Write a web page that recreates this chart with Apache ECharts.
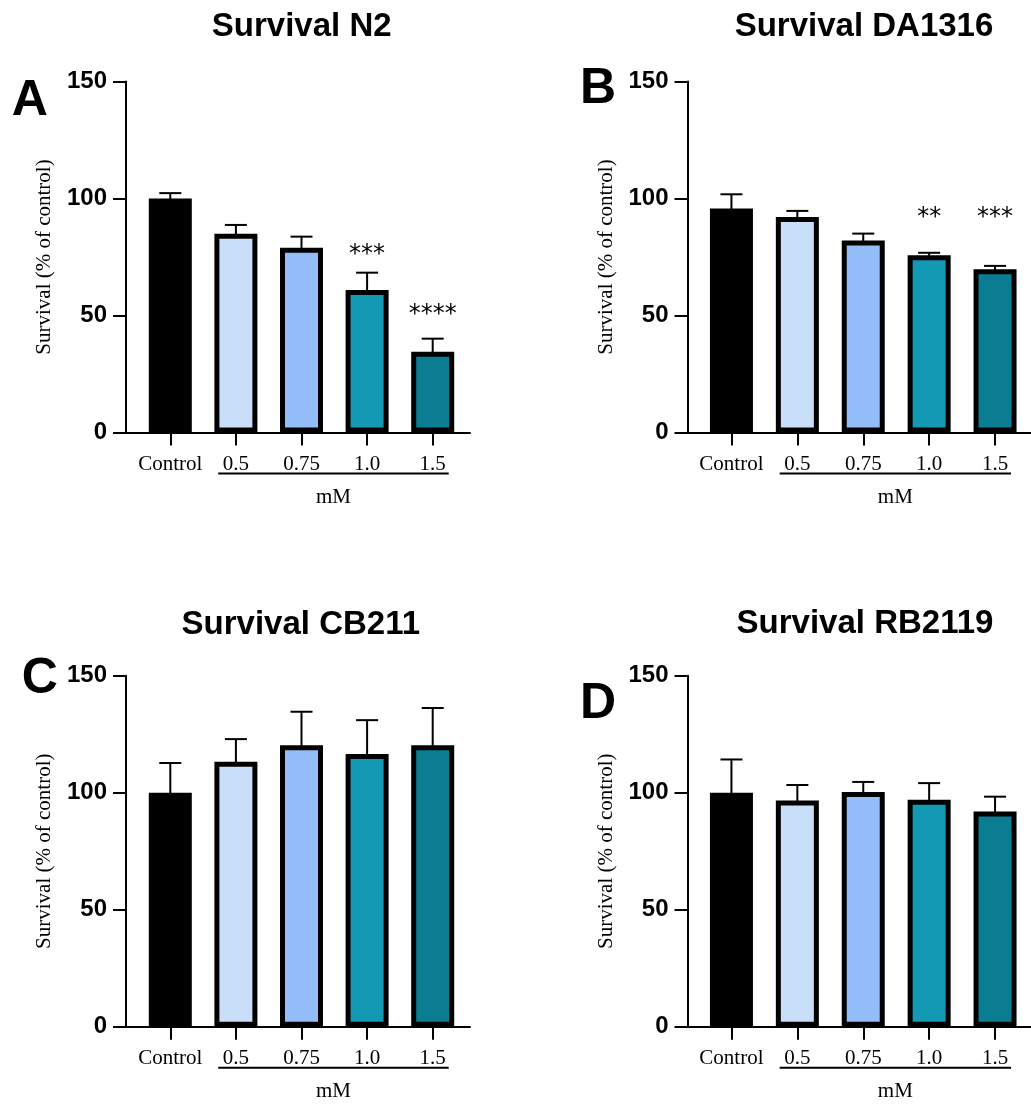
<!DOCTYPE html>
<html><head><meta charset="utf-8">
<script src="https://cdn.jsdelivr.net/npm/echarts@6/dist/echarts.min.js"></script>
<style>html,body{margin:0;padding:0;background:#fff}#c{width:1031px;height:1107px}</style>
</head><body><div id="c"></div>
<script>
// ---------- data ----------
const categories = ['Control', '0.5', '0.75', '1.0', '1.5'];
const groupLabel = 'mM';
const yAxisName = 'Survival (% of control)';
const yMin = 0, yMax = 150, yInterval = 50;

const titles = ['Survival N2', 'Survival DA1316', 'Survival CB211', 'Survival RB2119'];
const letters = ['A', 'B', 'C', 'D'];

const meanN2 = [100, 84.9, 79.0, 60.9, 34.5];
const semN2 = [2.3, 3.8, 4.7, 7.4, 5.6];
const starsN2 = ['', '', '', '***', '****'];
const starYN2 = [null, null, null, 77.7, 52.0];

const meanDA1316 = [95.7, 92.1, 82.1, 75.8, 69.8];
const semDA1316 = [6.1, 2.6, 2.9, 1.0, 1.4];
const starsDA1316 = ['', '', '', '**', '***'];
const starYDA1316 = [null, null, null, 93.6, 93.6];

const meanCB211 = [100, 113.2, 120.3, 116.5, 120.3];
const semCB211 = [12.7, 9.7, 14.3, 14.5, 15.9];
const starsCB211 = ['', '', '', '', ''];
const starYCB211 = [null, null, null, null, null];

const meanRB2119 = [100, 96.7, 100.3, 97.0, 92.0];
const semRB2119 = [14.2, 6.6, 4.3, 7.1, 6.3];
const starsRB2119 = ['', '', '', '', ''];
const starYRB2119 = [null, null, null, null, null];

// ---------- styling / layout ----------
const barColors = ['#000000', '#C9DEF8', '#92BDF8', '#1399B3', '#0A7D92'];
const SANS = '"Liberation Sans", Arial, sans-serif';
const SERIF = '"Liberation Serif", "Times New Roman", serif';
const STAR = '"DejaVu Sans", sans-serif';

const panels = [
  {mean: meanN2, sem: semN2, stars: starsN2, starY: starYN2},
  {mean: meanDA1316, sem: semDA1316, stars: starsDA1316, starY: starYDA1316},
  {mean: meanCB211, sem: semCB211, stars: starsCB211, starY: starYCB211},
  {mean: meanRB2119, sem: semRB2119, stars: starsRB2119, starY: starYRB2119}
];
const layout = [
  {gl: 137.5, gw: 328, top: 81.5, off: 11.5, axL: 126, axR: 470, tx: 301.7, ty: 26.5, lx: 11.7, ly: 101.5},
  {gl: 698.5, gw: 329.5, top: 81.5, off: 11, axL: 687.5, axR: 1031, tx: 864, ty: 26.5, lx: 580, ly: 89},
  {gl: 137.5, gw: 328, top: 675.7, off: 11.5, axL: 126, axR: 470, tx: 300.8, ty: 625, lx: 21.7, ly: 679.5},
  {gl: 698.5, gw: 329.5, top: 675.7, off: 11, axL: 687.5, axR: 1031, tx: 865, ty: 624, lx: 580, ly: 704}
];
const plotH = 351;

const grid = [], xAxis = [], yAxis = [], series = [];
panels.forEach((p, i) => {
  const L = layout[i];
  const gi = 2 * i;
  grid.push({left: L.gl, top: L.top, width: L.gw, height: plotH});
  grid.push({left: L.axL, top: L.top, width: L.axR - L.axL, height: plotH});
  xAxis.push({
    type: 'category', gridIndex: gi, data: categories,
    axisLine: {show: false},
    axisTick: {show: true, alignWithLabel: true, length: 13, lineStyle: {color: '#000', width: 2}},
    axisLabel: {color: '#000', fontFamily: SERIF, fontSize: 21, margin: 21, interval: 0}
  });
  xAxis.push({
    type: 'value', gridIndex: gi + 1, min: 0, max: 1,
    axisLine: {show: true, onZero: false, lineStyle: {color: '#000', width: 2}},
    axisTick: {show: false}, axisLabel: {show: false}, splitLine: {show: false}
  });
  yAxis.push({
    type: 'value', gridIndex: gi, min: yMin, max: yMax, interval: yInterval, offset: L.off,
    axisLine: {show: true, lineStyle: {color: '#000', width: 2}},
    axisTick: {show: true, length: 13, lineStyle: {color: '#000', width: 2}},
    axisLabel: {color: '#000', fontFamily: SANS, fontWeight: 'bold', fontSize: 24, margin: 19},
    splitLine: {show: false},
    name: yAxisName, nameLocation: 'middle', nameGap: 71,
    nameTextStyle: {color: '#000', fontFamily: SERIF, fontSize: 21}
  });
  yAxis.push({type: 'value', gridIndex: gi + 1, show: false, min: 0, max: 1});

  series.push({
    type: 'custom', xAxisIndex: gi, yAxisIndex: gi, z: 1,
    data: p.mean.map((m, k) => [k, m, m + p.sem[k]]),
    renderItem: (params, api) => {
      const a = api.coord([api.value(0), api.value(1)]);
      const b = api.coord([api.value(0), api.value(2)]);
      const hw = 11;
      return {type: 'group', children: [
        {type: 'line', shape: {x1: a[0], y1: a[1] + 3, x2: b[0], y2: b[1]}, style: {stroke: '#000', lineWidth: 2}},
        {type: 'line', shape: {x1: b[0] - hw, y1: b[1], x2: b[0] + hw, y2: b[1]}, style: {stroke: '#000', lineWidth: 2}}
      ]};
    }
  });
  series.push({
    type: 'bar', xAxisIndex: gi, yAxisIndex: gi, z: 2, barWidth: 43,
    data: p.mean.map((m, k) => ({value: m, itemStyle: {color: barColors[k], borderColor: '#000', borderWidth: 5}})),
    emphasis: {disabled: true}
  });
  const starData = [];
  p.stars.forEach((s, k) => { if (s) starData.push([k, p.starY[k]]); });
  const starsArr = p.stars;
  series.push({
    type: 'custom', xAxisIndex: gi, yAxisIndex: gi, z: 3,
    data: starData,
    renderItem: (params, api) => {
      const c = api.coord([api.value(0), api.value(1)]);
      const txt = starsArr[api.value(0)];
      return {type: 'text', x: c[0], y: c[1] + 4, style: {text: txt, fill: '#000', font: '24px ' + STAR, textAlign: 'center', textVerticalAlign: 'middle'}};
    }
  });
});

const chart = echarts.init(document.getElementById('c'), null, {renderer: 'canvas'});
chart.setOption({animation: false, backgroundColor: '#fff', grid, xAxis, yAxis, series});

// decorations: titles, panel letters, dose underline and unit label
const graphic = [];
panels.forEach((p, i) => {
  const L = layout[i];
  const gi = 2 * i;
  graphic.push({type: 'text', x: L.tx, y: L.ty, style: {text: titles[i], fill: '#000', font: 'bold 33px ' + SANS, textAlign: 'center', textVerticalAlign: 'middle'}});
  graphic.push({type: 'text', x: L.lx, y: L.ly, style: {text: letters[i], fill: '#000', font: 'bold 50px ' + SANS, textAlign: 'left', textVerticalAlign: 'middle'}});
  const x1 = chart.convertToPixel({xAxisIndex: gi}, categories[1]);
  const x2 = chart.convertToPixel({xAxisIndex: gi}, categories[4]);
  const y0 = chart.convertToPixel({yAxisIndex: gi}, 0);
  const ls = x1 - 17.7, le = x2 + 16;
  graphic.push({type: 'line', shape: {x1: ls, y1: y0 + 41, x2: le, y2: y0 + 41}, style: {stroke: '#000', lineWidth: 2}});
  graphic.push({type: 'text', x: (ls + le) / 2, y: y0 + 64.5, style: {text: groupLabel, fill: '#000', font: '21px ' + SERIF, textAlign: 'center', textVerticalAlign: 'middle'}});
});
chart.setOption({graphic});
</script>
</body></html>
